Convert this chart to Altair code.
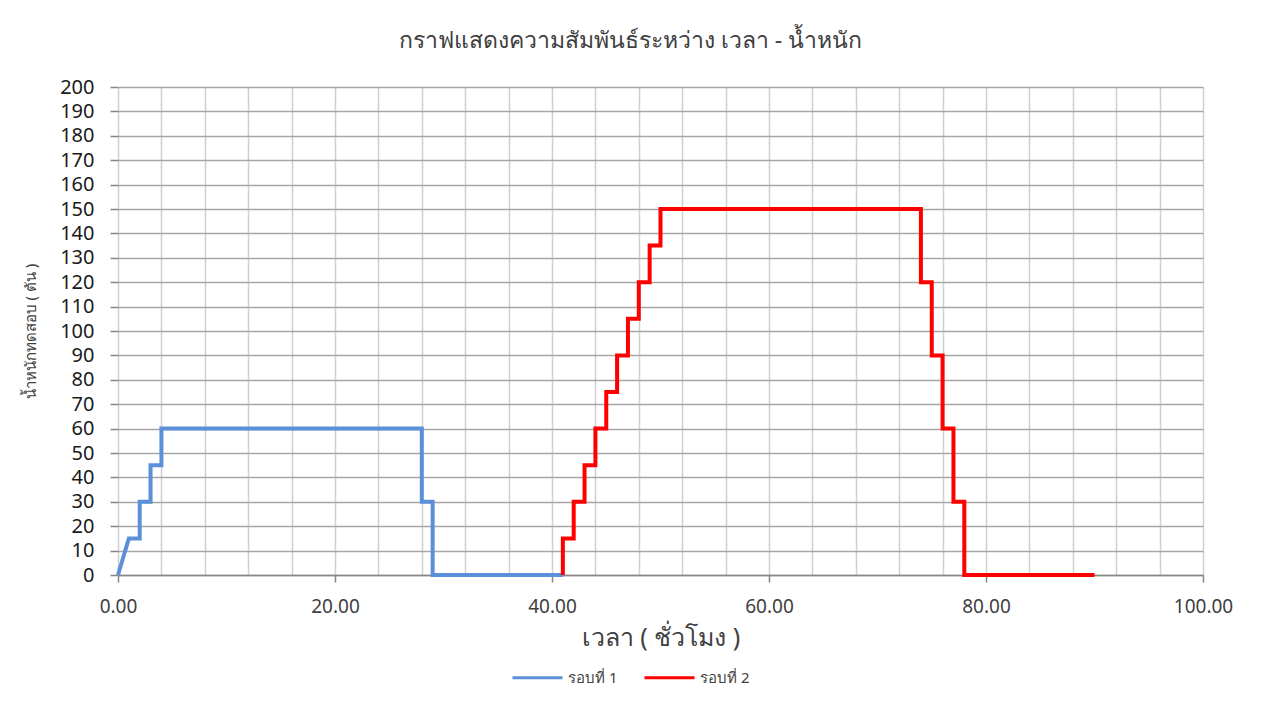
import altair as alt
import pandas as pd

# Series 1 (รอบที่ 1)
blue_x = [0, 1, 2, 2, 3, 3, 4, 4, 28, 28, 29, 29, 41]
blue_y = [0, 15, 15, 30, 30, 45, 45, 60, 60, 30, 30, 0, 0]
# Series 2 (รอบที่ 2)
red_x = [41, 41, 42, 42, 43, 43, 44, 44, 45, 45, 46, 46, 47, 47, 48, 48, 49, 49,
         50, 50, 74, 74, 75, 75, 76, 76, 77, 77, 78, 78, 90]
red_y = [0, 15, 15, 30, 30, 45, 45, 60, 60, 75, 75, 90, 90, 105, 105, 120, 120, 135,
         135, 150, 150, 120, 120, 90, 90, 60, 60, 30, 30, 0, 0]
series_names = ["รอบที่ 1", "รอบที่ 2"]
series_colors = ["#5B8FD9", "#FF0000"]

rows = []
for i, (x, y) in enumerate(zip(blue_x, blue_y)):
    rows.append({"x": x, "y": y, "s": series_names[0], "o": i})
for i, (x, y) in enumerate(zip(red_x, red_y)):
    rows.append({"x": x, "y": y, "s": series_names[1], "o": i})
df = pd.DataFrame(rows)

FONT = "Noto Sans"

chart = alt.Chart(df).mark_line(strokeWidth=4, strokeJoin="miter").encode(
    x=alt.X("x:Q",
            scale=alt.Scale(domain=[0, 100], nice=False, zero=False),
            axis=alt.Axis(
                values=list(range(0, 101, 4)),
                labelExpr="datum.value % 20 === 0 ? format(datum.value, '.2f') : ''",
                labelFlush=False,
                title="เวลา ( ชั่วโมง )",
                titleFontSize=25, titleFontWeight="normal", titleColor="#404040",
                titlePadding=9,
                labelFontSize=19, labelColor="#404040", labelPadding=15,
                gridColor="#d0d0d0", gridWidth=1.5,
                domainColor="#868686", domainWidth=1.5,
                tickColor={"condition": {"test": "datum.value % 20 === 0", "value": "#868686"}, "value": "transparent"},
                tickSize=7, tickWidth=1.5,
            )),
    y=alt.Y("y:Q",
            scale=alt.Scale(domain=[0, 200], nice=False),
            axis=alt.Axis(
                values=list(range(0, 201, 10)),
                title="น้ำหนักทดสอบ ( ตัน )",
                titleFontSize=15, titleFontWeight="normal", titleColor="#404040",
                titlePadding=21,
                labelFontSize=20, labelColor="#1a1a1a", labelPadding=16,
                gridColor="#a6a6a6", gridWidth=1.5,
                domain=False,
                tickColor="#868686", tickSize=8, tickWidth=1.5,
            )),
    color=alt.Color("s:N",
                    scale=alt.Scale(domain=series_names, range=series_colors),
                    legend=alt.Legend(
                        orient="none", legendX=393, legendY=564,
                        direction="horizontal", title=None,
                        symbolType="stroke", symbolSize=2500, symbolStrokeWidth=3,
                        labelFontSize=15, labelColor="#404040", columnPadding=20,
                    )),
    order="o:Q",
).properties(
    width=1085, height=488,
    padding={"left": 15, "top": 22, "right": 5, "bottom": 5},
    title=alt.Title("กราฟแสดงความสัมพันธ์ระหว่าง เวลา - น้ำหนัก",
                    fontSize=23, fontWeight="normal", color="#404040",
                    anchor="middle", offset=24, dx=-30),
).configure(font=FONT).configure_view(strokeWidth=0)

chart.save("out.html", embed_options={"renderer": "svg", "actions": False})
